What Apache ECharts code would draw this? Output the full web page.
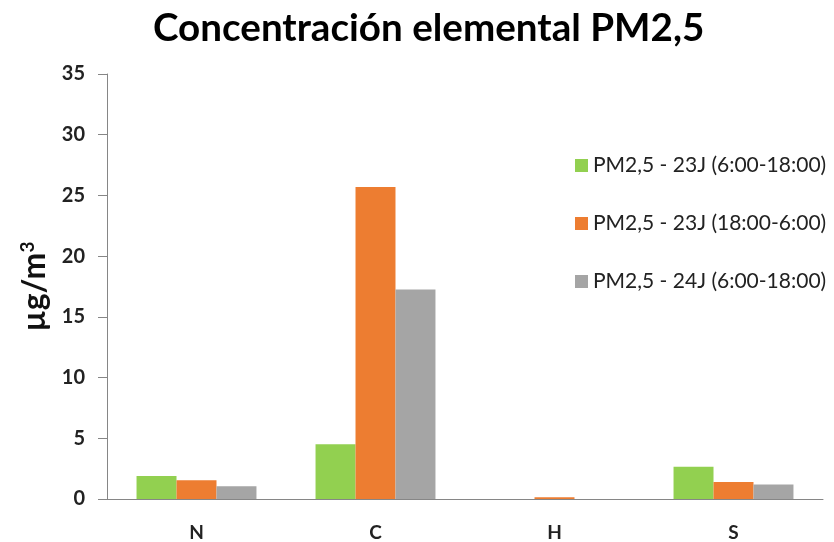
<!DOCTYPE html>
<html><head><meta charset="utf-8">
<script src="https://cdn.jsdelivr.net/npm/echarts@6/dist/echarts.min.js"></script>
<style>html,body{margin:0;padding:0;background:#fff}#c{width:834px;height:542px}</style>
</head><body><div id="c"></div>
<script>
const categories = ['N', 'C', 'H', 'S'];
const seriesNames = ['PM2,5 - 23J (6:00-18:00)', 'PM2,5 - 23J (18:00-6:00)', 'PM2,5 - 24J (6:00-18:00)'];
const green23Day = [1.9, 4.5, -0.12, 2.65];
const orange23Night = [1.55, 25.7, 0.15, 1.4];
const gray24Day = [1.05, 17.25, -0.13, 1.2];
const yTicks = [0, 5, 10, 15, 20, 25, 30, 35];
const colors = ['#92d050', '#ed7d31', '#a5a5a5'];
const FONT = 'Lato';
const chart = echarts.init(document.getElementById('c'));
const values = [green23Day, orange23Night, gray24Day];
chart.setOption({
  animation: false,
  title: {
    text: 'Concentración elemental PM2,5',
    left: 153, top: 9, padding: 0,
    textStyle: {fontFamily: FONT, fontWeight: 'bold', fontSize: 38.6, color: '#000'}
  },
  legend: {
    orient: 'vertical', left: 570, top: 150, itemGap: 37,
    itemWidth: 13, itemHeight: 13, icon: 'rect',
    textStyle: {fontFamily: FONT, fontSize: 21, color: '#222'},
    data: seriesNames
  },
  grid: {left: 107, right: 11, top: 74, bottom: 42},
  xAxis: {
    type: 'category', data: categories,
    axisLine: {lineStyle: {color: '#868686'}},
    axisTick: {show: false},
    axisLabel: {fontFamily: FONT, fontWeight: 'bold', fontSize: 19, color: '#222', margin: 24}
  },
  yAxis: {
    type: 'value', min: yTicks[0], max: yTicks[yTicks.length - 1], interval: 5,
    name: '{a|µg/m}{b|3}', nameLocation: 'middle', nameRotate: 90, nameGap: 56,
    nameTextStyle: {
      rich: {
        a: {fontFamily: FONT, fontWeight: 'bold', fontSize: 32, color: '#111'},
        b: {fontFamily: FONT, fontWeight: 'bold', fontSize: 19, color: '#111', verticalAlign: 'top', padding: [0, 0, 14, 0]}
      }
    },
    axisLine: {show: true, lineStyle: {color: '#868686'}},
    axisTick: {show: true, length: 9, lineStyle: {color: '#868686'}},
    splitLine: {show: false},
    axisLabel: {fontFamily: FONT, fontWeight: 'bold', fontSize: 20, color: '#222', margin: 22}
  },
  series: seriesNames.map((n, i) => ({
    name: n, type: 'bar', data: values[i],
    barGap: '0%', barCategoryGap: '33%',
    itemStyle: {color: colors[i]}
  }))
});
</script></body></html>
